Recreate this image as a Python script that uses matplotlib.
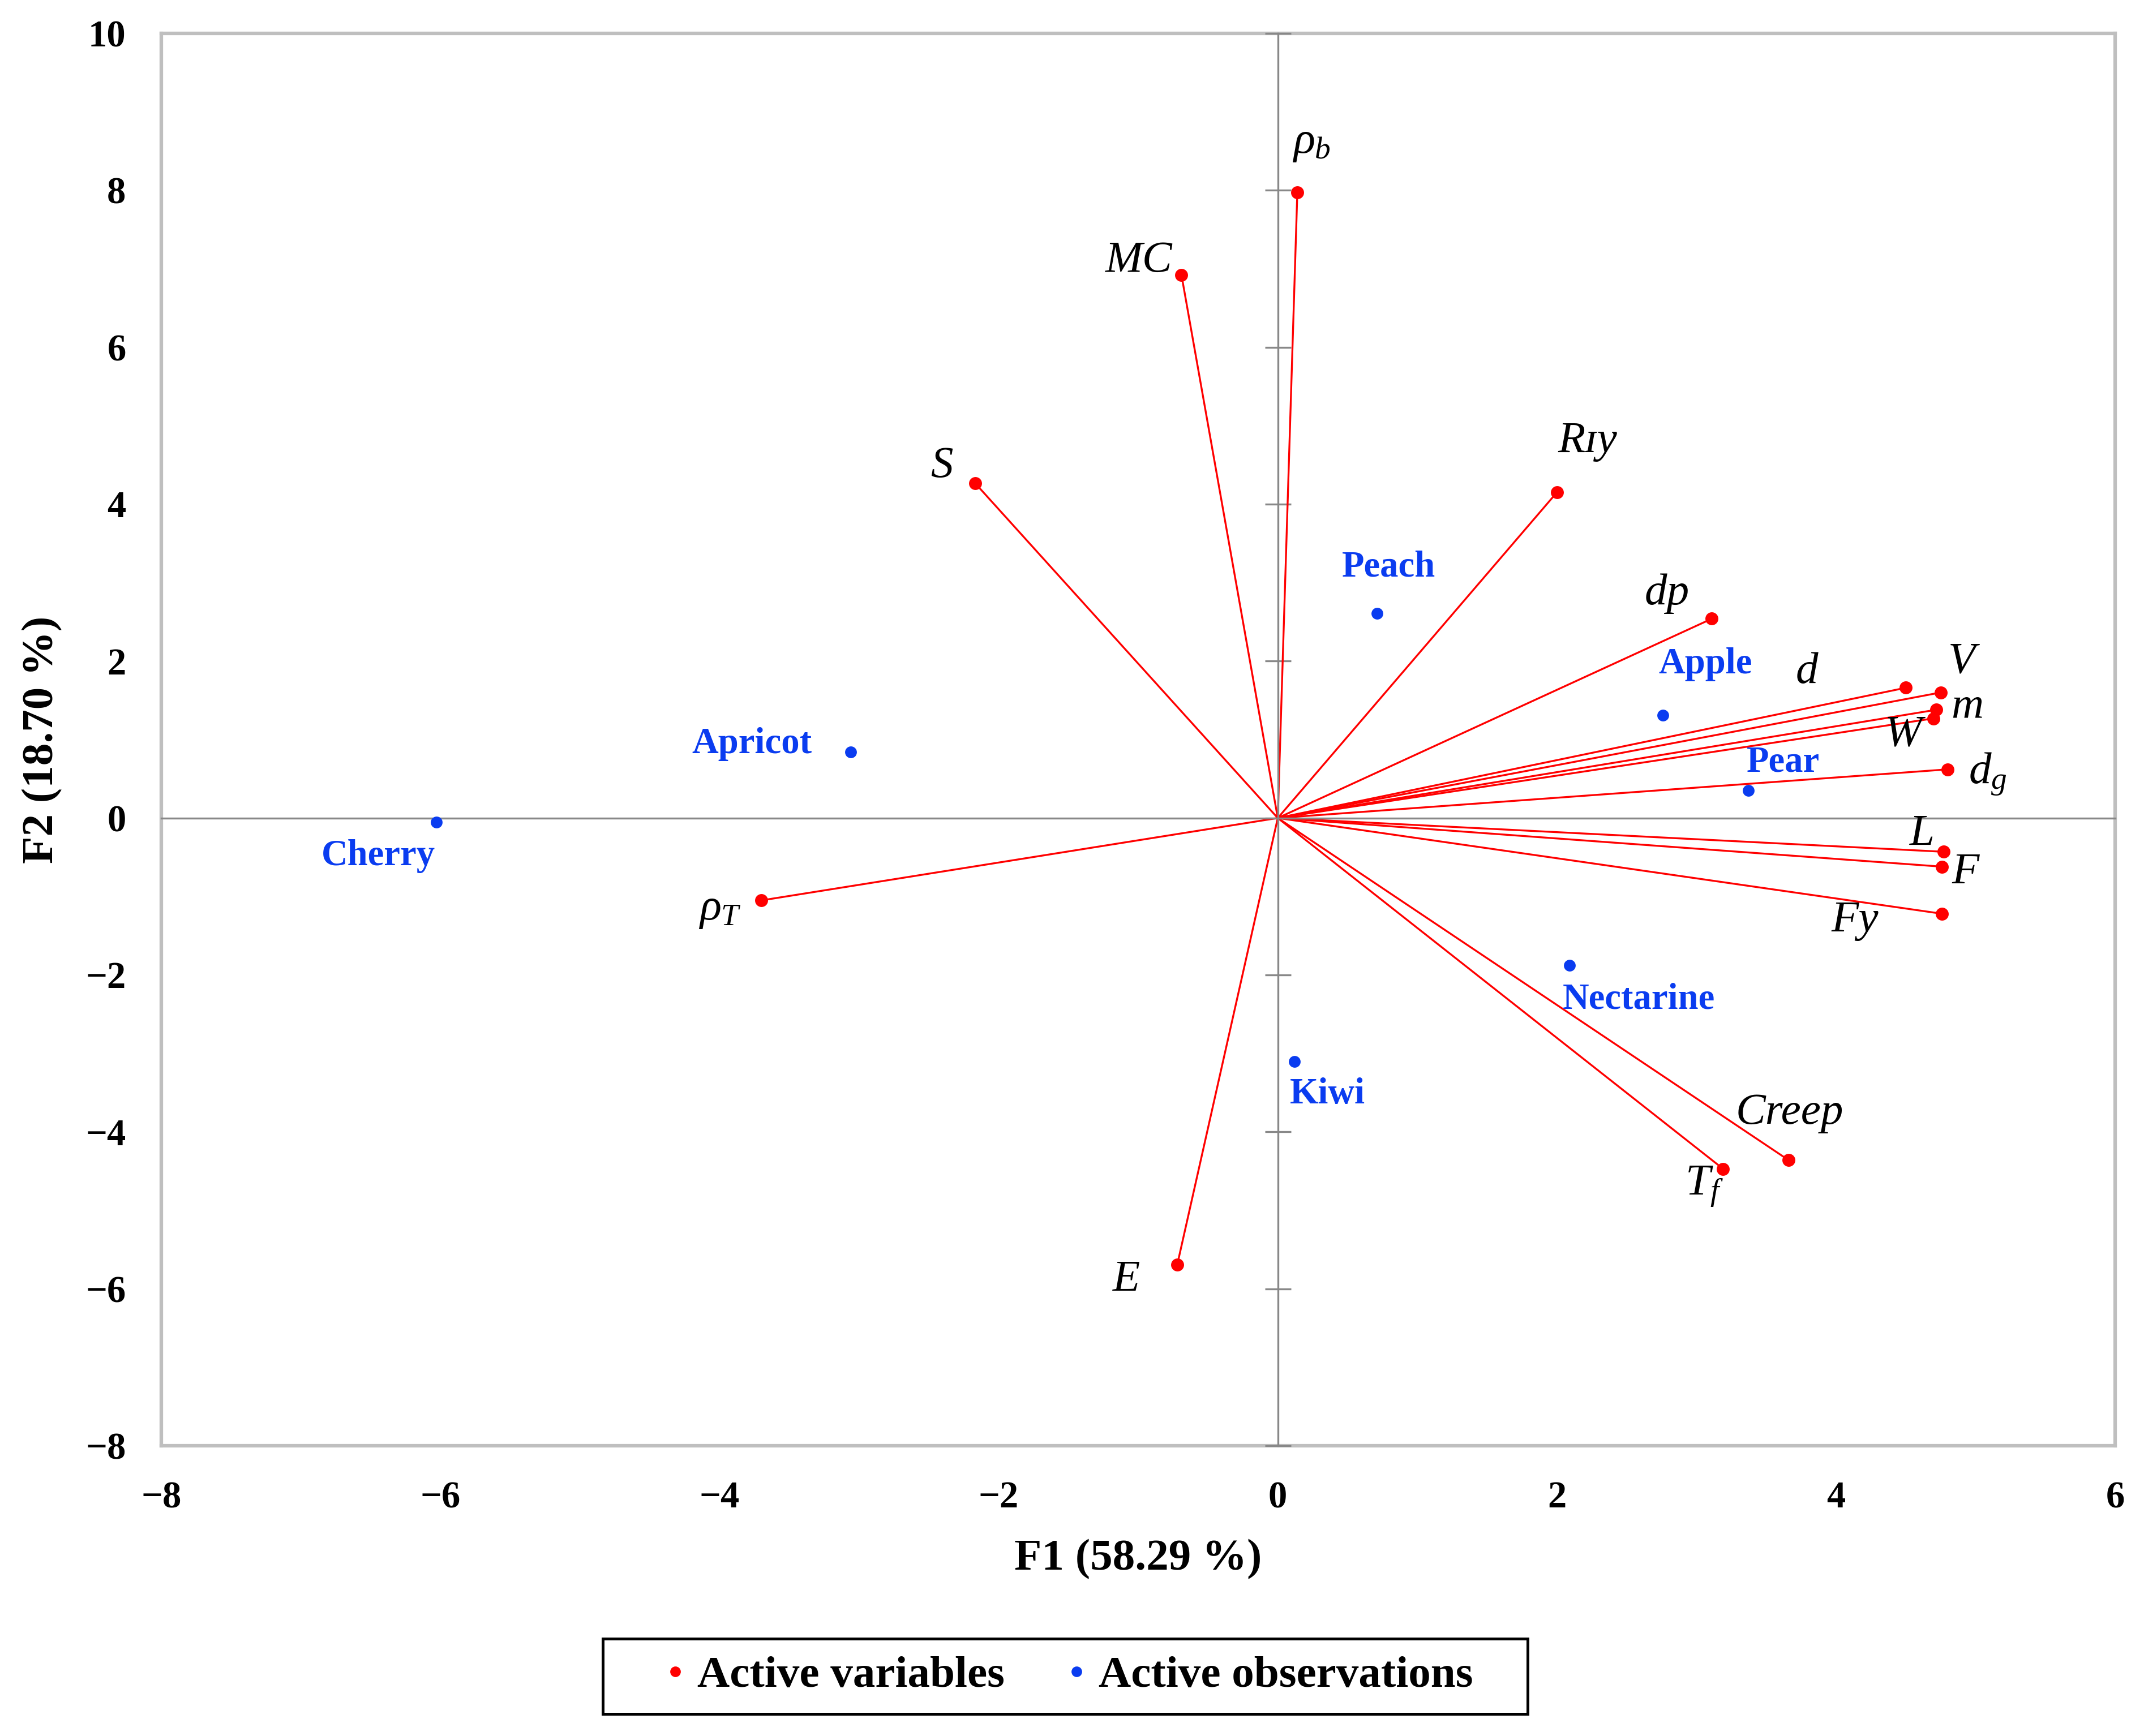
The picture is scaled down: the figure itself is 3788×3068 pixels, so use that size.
import matplotlib
matplotlib.use("Agg")
import matplotlib.pyplot as plt
from matplotlib.lines import Line2D
from matplotlib.patches import Rectangle

plt.rcParams['font.family'] = ['Liberation Serif', 'DejaVu Serif']
plt.rcParams['mathtext.fontset'] = 'custom'
plt.rcParams['mathtext.it'] = 'Liberation Serif:italic'
plt.rcParams['mathtext.rm'] = 'Liberation Serif'
plt.rcParams['axes.unicode_minus'] = True

# ---- data ----
var_names = [r'$\rho_b$', 'MC', 'S', 'R\u026Ay', 'dp', 'd', 'V', 'm', 'W', r'$d_g$',
             'L', 'F', 'Fy', 'Creep', r'$T_f$', 'E', r'$\rho_T$']
var_f1 = [0.14, -0.69, -2.17, 2.00, 3.11, 4.50, 4.75, 4.72, 4.70, 4.80,
          4.77, 4.76, 4.76, 3.66, 3.19, -0.72, -3.70]
var_f2 = [7.97, 6.92, 4.27, 4.15, 2.54, 1.66, 1.60, 1.38, 1.27, 0.62,
          -0.43, -0.62, -1.22, -4.36, -4.47, -5.69, -1.05]
var_offsets = [(6, 21), (-18, 6), (-14, 7), (13, 21.5), (-19, 10.5), (-42, 6.5),
               (9, 13), (13, 1), (-13, -7), (17, -2), (-9, 7.5), (10, -2.5),
               (-37, -3), (0.5, 20), (-8, -7.5), (-21.5, -6.5), (-17.5, -4)]

obs_names = ['Peach', 'Apple', 'Pear', 'Apricot', 'Cherry', 'Nectarine', 'Kiwi']
obs_f1 = [0.71, 2.76, 3.37, -3.06, -6.03, 2.09, 0.12]
obs_f2 = [2.61, 1.31, 0.35, 0.84, -0.05, -1.88, -3.10]
obs_offsets = [(5, 19.5), (18, 21.5), (15, 12), (-42, 3.5), (-24.5, -14.5),
               (29.5, -14.5), (14, -14)]

xticks = [-8, -6, -4, -2, 0, 2, 4, 6]
yticks = [-8, -6, -4, -2, 0, 2, 4, 6, 8, 10]
xlabel = 'F1 (58.29 %)'
ylabel = 'F2 (18.70 %)'
legend_labels = ['Active variables', 'Active observations']

RED = '#FF0000'
BLUE = '#0A3CF0'

fig = plt.figure(figsize=(3788 / 300, 3068 / 300), dpi=300)
pos = [285 / 3788, 1 - 2555 / 3068, (3737 - 285) / 3788, (2555 - 59) / 3068]
ax = fig.add_axes(pos)
ax.set_xlim(xticks[0], xticks[-1])
ax.set_ylim(yticks[0], yticks[-1])
ax.set_xticks(xticks)
ax.set_yticks(yticks)
for s in ax.spines.values():
    s.set_color('#BFBFBF')
    s.set_linewidth(1.5)
ax.tick_params(length=0, labelsize=16, pad=15)
for lab in ax.get_xticklabels() + ax.get_yticklabels():
    lab.set_fontweight('bold')
ax.set_xlabel(xlabel, fontsize=19, fontweight='bold')
ax.set_ylabel(ylabel, fontsize=19, fontweight='bold')
ax.xaxis.set_label_coords(0.5, -0.066)
ax.yaxis.set_label_coords(-0.0507, 0.5)

# overlay axes for zero-crossing axis lines
ax2 = fig.add_axes(pos, sharex=ax, sharey=ax)
ax2.patch.set_visible(False)
ax2.spines['right'].set_visible(False)
ax2.spines['top'].set_visible(False)
ax2.spines['left'].set_position(('data', 0))
ax2.spines['bottom'].set_position(('data', 0))
for k in ['left', 'bottom']:
    ax2.spines[k].set_color('#888888')
    ax2.spines[k].set_linewidth(0.8)
ax2.tick_params(axis='y', direction='inout', length=11, width=0.8, color='#888888',
                labelleft=False)
ax2.tick_params(axis='x', length=0, labelbottom=False)
ax2.set_zorder(0.5)
ax.set_zorder(0)

# variables: lines from origin
for x, y in zip(var_f1, var_f2):
    ax2.plot([0, x], [0, y], color=RED, lw=0.8, zorder=2)
ax2.plot(var_f1, var_f2, 'o', color=RED, ms=5.5, mec='none', zorder=3)
for name, x, y, off in zip(var_names, var_f1, var_f2, var_offsets):
    ax2.annotate(name, (x, y), xytext=off, textcoords='offset points',
                 ha='center', va='center', fontsize=19, fontstyle='italic',
                 color='black', zorder=4)

# observations
ax2.plot(obs_f1, obs_f2, 'o', color=BLUE, ms=5, mec='none', zorder=3)
for name, x, y, off in zip(obs_names, obs_f1, obs_f2, obs_offsets):
    ax2.annotate(name, (x, y), xytext=off, textcoords='offset points',
                 ha='center', va='center', fontsize=15.5, fontweight='bold',
                 color=BLUE, zorder=4)

handles = [Line2D([], [], ls='none', marker='o', color=RED, mec='none', ms=4.5),
           Line2D([], [], ls='none', marker='o', color=BLUE, mec='none', ms=4.5)]
leg = fig.legend(handles, legend_labels, loc='center', ncol=2,
                 bbox_to_anchor=(1882 / 3788, 1 - 2962 / 3068),
                 prop={'size': 19, 'weight': 'bold'}, frameon=False,
                 handletextpad=0.1, handlelength=0.8, columnspacing=1.2)
fig.patches.append(Rectangle((1065 / 3788, 1 - 3029 / 3068), 1634 / 3788, 133 / 3068,
                             transform=fig.transFigure, fill=False,
                             edgecolor='black', linewidth=1.2))

fig.savefig('out.png', dpi=300)
